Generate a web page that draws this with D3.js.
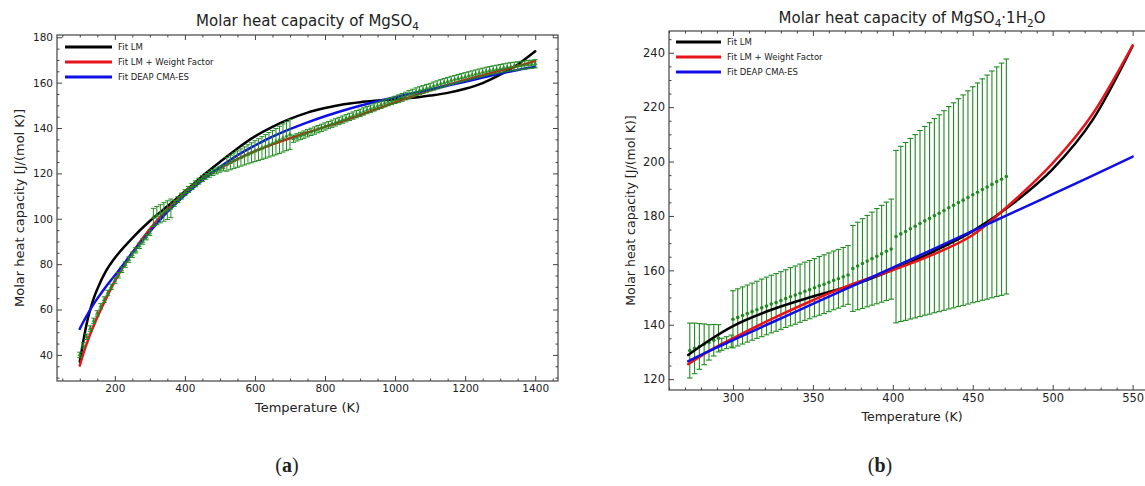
<!DOCTYPE html>
<html>
<head>
<meta charset="utf-8">
<script src="https://cdn.jsdelivr.net/npm/d3@7"></script>
<style>
  body { margin: 0; background: #fff; }
  svg { display: block; }
  text { font-family: "DejaVu Sans", sans-serif; fill: #222; }
</style>
</head>
<body>
<svg id="fig" width="1145" height="486"></svg>
<script>
// ---- panel (a): MgSO4, measured points (T in K, Cp, error)
const tempA = [
  100, 110, 120, 130, 140, 150, 160, 170, 180, 190, 200, 210, 220, 230, 240, 250, 260, 270, 280, 290, 300,
  310, 320, 330, 340, 350, 360,
  370, 380, 390, 400, 410, 420, 430, 440, 450, 460, 470, 480, 490, 500, 510,
  520, 530, 540, 550, 560, 570, 580, 590, 600, 610, 620, 630, 640, 650, 660, 670, 680, 690, 700,
  710, 720, 730, 740, 750, 760, 770, 780, 790, 800, 810, 820, 830, 840, 850,
  860, 870, 880, 890, 900, 910, 920, 930, 940, 950, 960, 970, 980, 990, 1000,
  1010, 1020, 1030, 1040, 1050, 1060, 1070, 1080, 1090, 1100,
  1110, 1120, 1130, 1140, 1150, 1160, 1170, 1180, 1190, 1200,
  1210, 1220, 1230, 1240, 1250, 1260, 1270, 1280, 1290, 1300,
  1310, 1320, 1330, 1340, 1350, 1360, 1370, 1380, 1390, 1400
];
const cpA = [
  40.0, 44.2, 48.0, 51.6, 55.0, 58.3, 61.4, 64.4, 67.3, 70.0, 72.6, 75.1, 77.5, 79.8, 82.0, 84.1, 86.1, 88.1, 90.0, 91.9, 93.8,
  100.6, 101.4, 102.2, 103.0, 103.8, 104.6,
  106.8, 108.4, 110.0, 111.5, 112.9, 114.2, 115.4, 116.6, 117.7, 118.7, 119.6, 120.4, 121.1, 121.8, 122.4,
  124.0, 124.8, 125.6, 126.3, 127.0, 127.7, 128.4, 129.1, 129.8, 130.5, 131.2, 131.9, 132.6, 133.3, 134.0, 134.8, 135.6, 136.4, 137.2,
  135.3, 135.9, 136.5, 137.1, 137.7, 138.3, 138.9, 139.5, 140.1, 140.7, 141.3, 141.9, 142.5, 143.1, 143.7,
  144.3, 144.9, 145.5, 146.1, 146.7, 147.3, 147.9, 148.5, 149.1, 149.7, 150.3, 150.9, 151.4, 151.9, 152.4,
  152.9, 153.5, 154.1, 154.8, 155.4, 156.0, 156.5, 157.0, 157.5, 158.0,
  158.5, 159.0, 159.5, 160.0, 160.5, 161.0, 161.4, 161.8, 162.2, 162.6,
  163.0, 163.4, 163.8, 164.2, 164.6, 165.0, 165.3, 165.6, 165.9, 166.2,
  166.5, 166.8, 167.0, 167.2, 167.4, 167.6, 167.8, 168.0, 168.1, 168.3
];
const errA = [
  1.2, 1.2, 1.2, 1.2, 1.2, 1.2, 1.2, 1.2, 1.2, 1.2, 1.2, 1.2, 1.2, 1.2, 1.2, 1.2, 1.2, 1.2, 1.2, 1.2, 1.2,
  4.0, 4.0, 4.0, 4.1, 4.1, 4.1,
  1.3, 1.3, 1.3, 1.3, 1.3, 1.3, 1.3, 1.3, 1.3, 1.3, 1.3, 1.3, 1.3, 1.3, 1.3,
  3.0, 3.2, 3.4, 3.6, 3.8, 4.0, 4.2, 4.4, 4.6, 4.8, 5.0, 5.2, 5.4, 5.6, 5.8, 6.0, 6.2, 6.4, 6.6,
  1.6, 1.6, 1.6, 1.6, 1.6, 1.6, 1.6, 1.6, 1.6, 1.6, 1.6, 1.6, 1.6, 1.6, 1.6,
  1.6, 1.6, 1.6, 1.6, 1.6, 1.6, 1.6, 1.6, 1.6, 1.6, 1.6, 1.6, 1.6, 1.6, 1.6,
  1.7, 1.7, 1.7, 1.7, 1.7, 1.7, 1.7, 1.7, 1.7, 1.7,
  1.8, 1.8, 1.8, 1.8, 1.8, 1.8, 1.8, 1.8, 1.8, 1.8,
  1.8, 1.8, 1.8, 1.8, 1.8, 1.8, 1.8, 1.8, 1.8, 1.8,
  1.8, 1.8, 1.8, 1.8, 1.8, 1.8, 1.8, 1.8, 1.8, 1.8
];

// ---- panel (a): fitted curves
const fitTempA = [100, 110, 120, 130, 140, 150, 175, 200, 250, 300, 350, 400, 450, 500, 550, 600, 650, 700,
  750, 800, 850, 900, 950, 1000, 1050, 1100, 1150, 1200, 1250, 1300, 1350, 1400];
const fitLmA = [37.0, 46.0, 54.0, 60.0, 65.0, 69.0, 77.0, 82.7, 91.5, 99.0, 105.5, 112.0, 118.8, 125.0, 131.0, 136.3, 140.5, 144.0,
  146.8, 148.8, 150.4, 151.4, 152.1, 152.7, 153.3, 154.3, 155.5, 157.3, 159.8, 163.5, 168.0, 173.8];
const fitWeightA = [35.3, 40.5, 45.0, 49.2, 53.0, 56.6, 64.8, 72.5, 85.0, 95.5, 104.0, 111.5, 117.5, 122.3, 126.3, 129.8, 132.8, 135.5,
  138.0, 140.5, 143.0, 145.7, 148.5, 151.3, 154.0, 156.6, 159.0, 161.2, 163.3, 165.3, 167.3, 169.5];
const fitDeapA = [51.5, 54.5, 57.3, 60.0, 62.5, 64.8, 70.2, 75.0, 85.0, 94.3, 103.0, 110.5, 117.0, 122.8, 128.0, 132.3, 136.2, 139.5,
  142.5, 145.2, 147.6, 149.8, 151.8, 153.6, 155.3, 157.0, 158.7, 160.4, 162.2, 164.0, 165.6, 167.0];

// ---- panel (b): MgSO4·1H2O, measured points
const tempB = [
  273, 276, 279, 282, 285, 288, 291,
  293, 296, 299,
  300, 303, 306, 309, 312, 315, 318, 321, 324, 327, 330, 333, 336, 339, 342, 345, 348, 351, 354, 357, 360, 363, 366, 369, 372,
  375, 378, 381, 384, 387, 390, 393, 396, 399,
  402, 405, 408, 411, 414, 417, 420, 423, 426, 429, 432, 435, 438, 441, 444, 447, 450, 453, 456, 459, 462, 465, 468, 471
];
const cpB = [
  130.5, 131.3, 132.0, 132.8, 133.5, 134.3, 135.0,
  132.8, 133.4, 134.0,
  142.0, 142.7, 143.4, 144.1, 144.8, 145.5, 146.2, 146.9, 147.6, 148.2, 148.9, 149.6, 150.3, 150.9, 151.6, 152.3, 152.9, 153.6, 154.3, 154.9, 155.6, 156.3, 156.9, 157.6, 158.3,
  160.7, 161.6, 162.5, 163.4, 164.3, 165.2, 166.1, 167.0, 167.8,
  172.4, 173.4, 174.3, 175.3, 176.2, 177.2, 178.2, 179.1, 180.1, 181.0, 182.0, 183.0, 183.9, 184.9, 185.8, 186.8, 187.8, 188.7, 189.7, 190.6, 191.6, 192.6, 193.5, 194.5
];
const errB = [
  10.1, 9.3, 8.4, 7.5, 6.5, 5.8, 5.0,
  2.2, 2.2, 2.2,
  10.5, 10.5, 10.5, 10.5, 10.5, 10.5, 10.6, 10.6, 10.6, 10.6, 10.6, 10.6, 10.7, 10.7, 10.7, 10.7, 10.7, 10.7, 10.8, 10.8, 10.8, 10.8, 10.8, 10.8, 10.8,
  15.8, 16.1, 16.5, 16.8, 17.1, 17.5, 17.8, 18.1, 18.4,
  31.7, 32.2, 32.7, 33.2, 33.7, 34.2, 34.7, 35.2, 35.7, 36.2, 36.7, 37.2, 37.7, 38.2, 38.7, 39.2, 39.7, 40.2, 40.7, 41.2, 41.7, 42.2, 42.7, 43.2
];

// ---- panel (b): fitted curves
const fitTempB = [272, 285, 300, 325, 350, 375, 400, 425, 450, 475, 500, 525, 550];
const fitLmB = [128.9, 134.2, 139.5, 145.7, 150.4, 154.6, 160.2, 166.8, 174.4, 184.5, 197.2, 215.3, 242.5];
const fitWeightB = [125.5, 130.3, 135.0, 142.3, 149.0, 155.0, 160.1, 165.8, 173.0, 185.2, 199.4, 217.5, 242.7];
const fitDeapB = [126.6, 130.3, 134.3, 141.0, 147.7, 154.3, 161.0, 167.7, 174.5, 181.2, 188.0, 194.8, 201.8];

const seriesNames = ["Fit LM", "Fit LM + Weight Factor", "Fit DEAP CMA-ES"];
const seriesColours = ["#000000", "#e8141b", "#1010e6"];
const dataColour = "#1f8a1f";

const svg = d3.select("#fig");
svg.append("rect").attr("width", 1145).attr("height", 486).attr("fill", "#fff");

function makeAxis(side, scale) {
  return side === "bottom" ? d3.axisBottom(scale)
    : side === "top" ? d3.axisTop(scale)
    : side === "left" ? d3.axisLeft(scale)
    : d3.axisRight(scale);
}

function drawPanel(cfg) {
  const x = d3.scaleLinear().domain(cfg.xDom).range([cfg.left, cfg.right]);
  const y = d3.scaleLinear().domain(cfg.yDom).range([cfg.bottom, cfg.top]);

  const clipId = "clip-" + cfg.id;
  svg.append("clipPath").attr("id", clipId)
    .append("rect")
    .attr("x", cfg.left).attr("y", cfg.top)
    .attr("width", cfg.right - cfg.left).attr("height", cfg.bottom - cfg.top);

  const plot = svg.append("g").attr("clip-path", `url(#${clipId})`);

  const pts = cfg.temp.map((t, i) => ({ t: t, cp: cfg.cp[i], err: cfg.err[i] }));
  const fits = cfg.fits.map((vals, k) => ({
    colour: seriesColours[k],
    pts: cfg.fitTemp.map((t, i) => ({ t: t, v: vals[i] }))
  }));

  const line = d3.line().curve(d3.curveMonotoneX).x(d => x(d.t)).y(d => y(d.v));

  const drawFits = () => {
    plot.append("g").selectAll("path")
      .data(fits)
      .join("path")
      .attr("fill", "none")
      .attr("stroke", d => d.colour)
      .attr("stroke-width", cfg.lineWidth)
      .attr("stroke-linecap", "round")
      .attr("d", d => line(d.pts));
  };

  const drawData = () => {
    const eb = plot.append("g").attr("stroke", dataColour).attr("stroke-width", cfg.barWidth);
    eb.selectAll("line.bar")
      .data(pts)
      .join("line")
      .attr("class", "bar")
      .attr("x1", d => x(d.t)).attr("x2", d => x(d.t))
      .attr("y1", d => y(d.cp - d.err)).attr("y2", d => y(d.cp + d.err));
    eb.selectAll("line.capTop")
      .data(pts)
      .join("line")
      .attr("class", "capTop")
      .attr("x1", d => x(d.t) - cfg.cap).attr("x2", d => x(d.t) + cfg.cap)
      .attr("y1", d => y(d.cp + d.err)).attr("y2", d => y(d.cp + d.err));
    eb.selectAll("line.capBot")
      .data(pts)
      .join("line")
      .attr("class", "capBot")
      .attr("x1", d => x(d.t) - cfg.cap).attr("x2", d => x(d.t) + cfg.cap)
      .attr("y1", d => y(d.cp - d.err)).attr("y2", d => y(d.cp - d.err));

    if (cfg.marker === "triangle") {
      plot.append("g").selectAll("path")
        .data(pts)
        .join("path")
        .attr("fill", dataColour)
        .attr("opacity", 0.85)
        .attr("transform", d => `translate(${x(d.t)},${y(d.cp)})`)
        .attr("d", d3.symbol(d3.symbolTriangle, 10));
    } else {
      plot.append("g").selectAll("circle")
        .data(pts)
        .join("circle")
        .attr("fill", dataColour)
        .attr("cx", d => x(d.t))
        .attr("cy", d => y(d.cp))
        .attr("r", 1.8);
    }
  };

  if (cfg.dataOnTop) { drawFits(); drawData(); } else { drawData(); drawFits(); }

  // axes: ticks point inward on all four sides, labels only bottom/left
  const sides = [
    { side: "bottom", scale: x, tr: `translate(0,${cfg.bottom})`, major: cfg.xMajor, minor: cfg.xMinor, labels: true },
    { side: "top", scale: x, tr: `translate(0,${cfg.top})`, major: cfg.xMajor, minor: cfg.xMinor, labels: false },
    { side: "left", scale: y, tr: `translate(${cfg.left},0)`, major: cfg.yMajor, minor: cfg.yMinor, labels: true },
    { side: "right", scale: y, tr: `translate(${cfg.right},0)`, major: cfg.yMajor, minor: cfg.yMinor, labels: false }
  ];
  sides.forEach(s => {
    const gMaj = svg.append("g").attr("transform", s.tr)
      .style("font-size", cfg.tickFont + "px")
      .call(makeAxis(s.side, s.scale)
        .tickValues(s.major)
        .tickSizeInner(-5).tickSizeOuter(0).tickPadding(4)
        .tickFormat(s.labels ? d3.format("d") : ""));
    gMaj.select(".domain").remove();
    gMaj.selectAll("line").attr("stroke", "#444");
    gMaj.selectAll("text").attr("fill", "#222").style("font-family", "DejaVu Sans, sans-serif");

    const gMin = svg.append("g").attr("transform", s.tr)
      .call(makeAxis(s.side, s.scale)
        .tickValues(s.minor)
        .tickSizeInner(-2.5).tickSizeOuter(0)
        .tickFormat(""));
    gMin.select(".domain").remove();
    gMin.selectAll("line").attr("stroke", "#444");
  });

  svg.append("rect")
    .attr("x", cfg.left).attr("y", cfg.top)
    .attr("width", cfg.right - cfg.left).attr("height", cfg.bottom - cfg.top)
    .attr("fill", "none").attr("stroke", "#444").attr("stroke-width", 1.2);

  // title with subscripts
  const title = svg.append("text")
    .attr("x", (cfg.left + cfg.right) / 2)
    .attr("y", cfg.titleY)
    .attr("text-anchor", "middle")
    .style("font-size", cfg.titleFont + "px");
  cfg.title.forEach(part => {
    const ts = title.append("tspan").text(part.t);
    if (part.sub) ts.attr("dy", 4).style("font-size", (cfg.titleFont * 0.7) + "px");
    else if (part.after) ts.attr("dy", -4);
  });

  svg.append("text")
    .attr("x", (cfg.left + cfg.right) / 2)
    .attr("y", cfg.xLabelY)
    .attr("text-anchor", "middle")
    .style("font-size", cfg.labelFont + "px")
    .text("Temperature (K)");

  svg.append("text")
    .attr("transform", `translate(${cfg.yLabelX},${(cfg.top + cfg.bottom) / 2}) rotate(-90)`)
    .attr("text-anchor", "middle")
    .style("font-size", cfg.labelFont + "px")
    .text("Molar heat capacity [J/(mol K)]");

  // legend, no frame
  const leg = svg.append("g");
  seriesNames.forEach((name, i) => {
    const yy = cfg.legY + i * cfg.legStep;
    leg.append("line")
      .attr("x1", cfg.legX).attr("x2", cfg.legX + cfg.legLen)
      .attr("y1", yy).attr("y2", yy)
      .attr("stroke", seriesColours[i]).attr("stroke-width", 3);
    leg.append("text")
      .attr("x", cfg.legX + cfg.legLen + 6)
      .attr("y", yy + 3)
      .style("font-size", cfg.legFont + "px")
      .text(name);
  });
}

drawPanel({
  id: "a",
  temp: tempA, cp: cpA, err: errA,
  fitTemp: fitTempA, fits: [fitLmA, fitWeightA, fitDeapA],
  xDom: [35, 1465], yDom: [28.5, 181],
  left: 57, right: 558, top: 35, bottom: 381,
  xMajor: [200, 400, 600, 800, 1000, 1200, 1400],
  xMinor: [50, 100, 150, 250, 300, 350, 450, 500, 550, 650, 700, 750, 850, 900, 950, 1050, 1100, 1150, 1250, 1300, 1350, 1450],
  yMajor: [40, 60, 80, 100, 120, 140, 160, 180],
  yMinor: [30, 35, 45, 50, 55, 65, 70, 75, 85, 90, 95, 105, 110, 115, 125, 130, 135, 145, 150, 155, 165, 170, 175],
  dataOnTop: true, marker: "triangle",
  lineWidth: 2.5, barWidth: 1, cap: 2.5,
  tickFont: 10.5, labelFont: 13, titleFont: 15,
  title: [{ t: "Molar heat capacity of MgSO" }, { t: "4", sub: true }],
  titleY: 26, xLabelY: 412, yLabelX: 24,
  legX: 65, legY: 47, legStep: 15, legLen: 47, legFont: 8.5
});

drawPanel({
  id: "b",
  temp: tempB, cp: cpB, err: errB,
  fitTemp: fitTempB, fits: [fitLmB, fitWeightB, fitDeapB],
  xDom: [260, 564], yDom: [116, 248],
  left: 669, right: 1155, top: 31, bottom: 390,
  xMajor: [300, 350, 400, 450, 500, 550],
  xMinor: [260, 270, 280, 290, 310, 320, 330, 340, 360, 370, 380, 390, 410, 420, 430, 440, 460, 470, 480, 490, 510, 520, 530, 540, 560],
  yMajor: [120, 140, 160, 180, 200, 220, 240],
  yMinor: [125, 130, 135, 145, 150, 155, 165, 170, 175, 185, 190, 195, 205, 210, 215, 225, 230, 235, 245],
  dataOnTop: false, marker: "dot",
  lineWidth: 2.5, barWidth: 1.1, cap: 2.8,
  tickFont: 11.5, labelFont: 12.5, titleFont: 15,
  title: [{ t: "Molar heat capacity of MgSO" }, { t: "4", sub: true }, { t: "·1H", after: true }, { t: "2", sub: true }, { t: "O", after: true }],
  titleY: 23, xLabelY: 421, yLabelX: 635,
  legX: 676, legY: 42, legStep: 15, legLen: 45, legFont: 8.5
});

// sub-figure labels
[["a", 287], ["b", 880]].forEach(([letter, cx]) => {
  const t = svg.append("text")
    .attr("x", cx).attr("y", 472)
    .attr("text-anchor", "middle")
    .style("font-family", "Liberation Serif, serif")
    .style("font-size", "20px")
    .attr("fill", "#000");
  t.append("tspan").text("(");
  t.append("tspan").style("font-weight", "bold").text(letter);
  t.append("tspan").text(")");
});
</script>
</body>
</html>
